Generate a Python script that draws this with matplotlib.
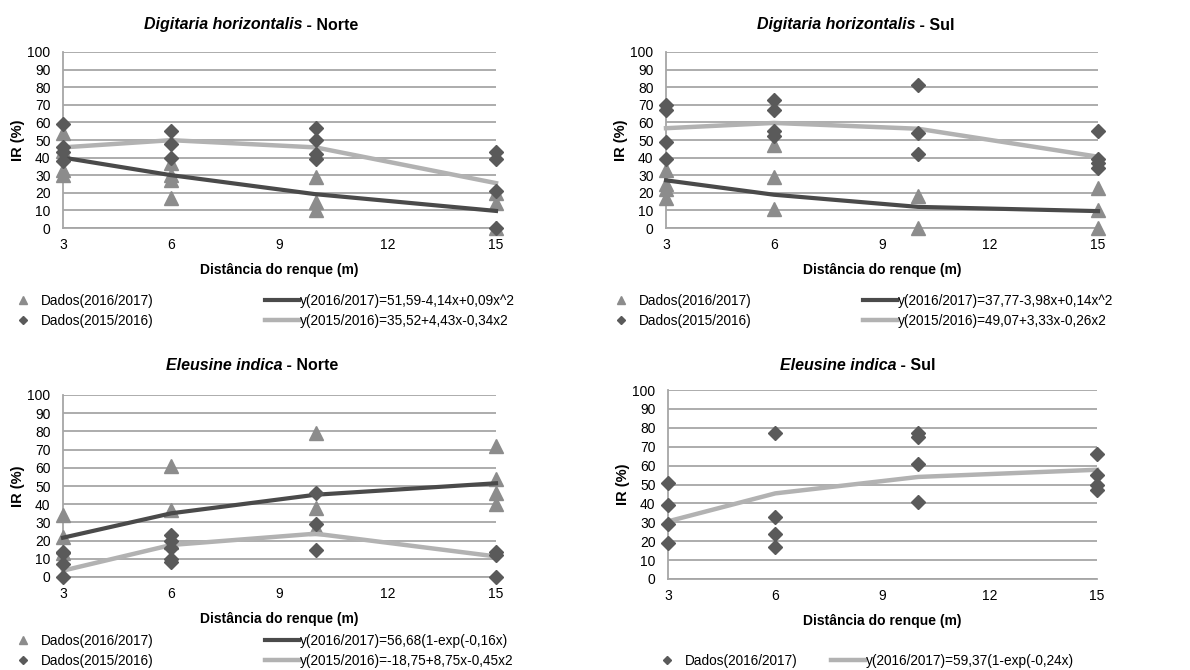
import matplotlib
matplotlib.use("Agg")
import matplotlib.pyplot as plt

plt.rcParams['font.family'] = ['Liberation Sans', 'DejaVu Sans']

# distâncias do renque (m) onde as curvas foram avaliadas
dist = [3, 6, 10, 15]

# Digitaria horizontalis - Norte
dn_x_1617 = [3, 3, 3, 3, 6, 6, 6, 6, 10, 10, 10, 15, 15, 15]
dn_y_1617 = [54, 44, 33, 30, 37, 30, 27, 17, 29, 15, 10, 20, 14, 0]
dn_x_1516 = [3, 3, 3, 3, 6, 6, 6, 10, 10, 10, 10, 15, 15, 15, 15]
dn_y_1516 = [59, 46, 43, 38, 55, 48, 40, 57, 50, 42, 39, 43, 39, 21, 0]
dn_fit_1617 = [40.0, 30.0, 19.2, 9.7]
dn_fit_1516 = [45.8, 49.9, 45.8, 25.5]

# Digitaria horizontalis - Sul
ds_x_1617 = [3, 3, 3, 3, 6, 6, 6, 10, 10, 15, 15, 15]
ds_y_1617 = [33, 25, 22, 17, 47, 29, 11, 18, 0, 23, 10, 0]
ds_x_1516 = [3, 3, 3, 3, 6, 6, 6, 6, 10, 10, 10, 15, 15, 15, 15]
ds_y_1516 = [70, 67, 49, 39, 73, 67, 55, 52, 81, 54, 42, 55, 39, 37, 34]
ds_fit_1617 = [27.1, 18.9, 12.0, 9.6]
ds_fit_1516 = [56.7, 59.7, 56.4, 40.5]

# Eleusine indica - Norte
en_x_1617 = [3, 3, 3, 6, 6, 6, 10, 10, 10, 15, 15, 15, 15]
en_y_1617 = [34, 22, 13, 61, 37, 19, 79, 38, 27, 72, 54, 46, 40]
en_x_1516 = [3, 3, 3, 3, 6, 6, 6, 6, 6, 10, 10, 10, 15, 15, 15]
en_y_1516 = [14, 13, 7, 0, 23, 20, 16, 10, 8, 46, 29, 15, 14, 12, 0]
en_fit_1617 = [21.6, 35.0, 45.2, 51.5]
en_fit_1516 = [3.5, 17.6, 23.8, 11.3]

# Eleusine indica - Sul
es_x_1617 = [3, 3, 3, 3, 6, 6, 6, 6, 10, 10, 10, 10, 15, 15, 15, 15]
es_y_1617 = [51, 39, 29, 19, 77, 33, 24, 17, 77, 75, 61, 41, 66, 55, 50, 47]
es_fit_1617 = [30.5, 45.3, 54.0, 57.8]

TRI = '#8c8c8c'
DIA = '#5a5a5a'
DARK = '#4a4a4a'
LIGHT = '#b2b2b2'
GRID = '#a6a6a6'

W, H = 1190, 670
fig = plt.figure(figsize=(W / 100, H / 100), dpi=100)


def setup(ax):
    ax.set_xlim(3, 15)
    ax.set_ylim(0, 100)
    ax.set_xticks([3, 6, 9, 12, 15])
    ax.set_yticks(range(0, 101, 10))
    ax.grid(axis='y', color=GRID, lw=1.3)
    ax.set_axisbelow(True)
    for s in ['top', 'right']:
        ax.spines[s].set_visible(False)
    for s in ['left', 'bottom']:
        ax.spines[s].set_color(GRID)
        ax.spines[s].set_linewidth(1.3)
    ax.tick_params(length=0, labelsize=10)
    ax.tick_params(axis='y', pad=9)
    ax.tick_params(axis='x', pad=7)
    ax.set_xlabel('Distância do renque (m)', fontsize=10, fontweight='bold', labelpad=8)
    ax.set_ylabel('IR (%)', fontsize=10.5, fontweight='bold', labelpad=2)


def title(xc, y, italic, rest):
    t1 = fig.text(0, y, italic, style='italic', weight='bold', size=11.5, va='center')
    t2 = fig.text(0, y, rest, weight='bold', size=11.5, va='center')
    r = fig.canvas.get_renderer()
    w1 = t1.get_window_extent(r).width
    w2 = t2.get_window_extent(r).width
    left = xc * W - (w1 + w2) / 2
    t1.set_x(left / W)
    t2.set_x((left + w1) / W)


def legend(ax, x0, ytop, ncol=2, colsp=8.2, lsp=0.45):
    ax.legend(loc='upper left', bbox_to_anchor=(x0 / W, 1 - ytop / H),
              bbox_transform=fig.transFigure, ncol=ncol, frameon=False,
              fontsize=9.8, handlelength=2.5, handletextpad=0.05,
              columnspacing=colsp, labelspacing=lsp, borderpad=0,
              borderaxespad=0, markerscale=0.6)


panels = [
    (dn_x_1617, dn_y_1617, dn_x_1516, dn_y_1516, dn_fit_1617, dn_fit_1516,
     [63, 228, 496, 52], 'y(2016/2017)=51,59-4,14x+0,09x^2', 'y(2015/2016)=35,52+4,43x-0,34x2'),
    (ds_x_1617, ds_y_1617, ds_x_1516, ds_y_1516, ds_fit_1617, ds_fit_1516,
     [666, 228, 1098, 52], 'y(2016/2017)=37,77-3,98x+0,14x^2', 'y(2015/2016)=49,07+3,33x-0,26x2'),
    (en_x_1617, en_y_1617, en_x_1516, en_y_1516, en_fit_1617, en_fit_1516,
     [63, 577, 496, 395], 'y(2016/2017)=56,68(1-exp(-0,16x)', 'y(2015/2016)=-18,75+8,75x-0,45x2'),
]

axes = []
for xa, ya, xb, yb, fa, fb, box, la, lb in panels:
    l, b, r, t = box
    ax = fig.add_axes([l / W, 1 - b / H, (r - l) / W, (b - t) / H])
    setup(ax)
    ax.plot(xa, ya, '^', color=TRI, ms=10, mec=TRI, ls='none', clip_on=False, zorder=3,
            label='Dados(2016/2017)')
    ax.plot(xb, yb, 'D', color=DIA, ms=7.2, mec=DIA, ls='none', clip_on=False, zorder=4,
            label='Dados(2015/2016)')
    ax.plot(dist, fa, color=DARK, lw=3, zorder=3.5, label=la, clip_on=False)
    ax.plot(dist, fb, color=LIGHT, lw=3.2, zorder=3.5, label=lb, clip_on=False)
    axes.append(ax)

# Eleusine indica - Sul (só um ano)
l, b, r, t = 668, 579, 1097, 390
ax4 = fig.add_axes([l / W, 1 - b / H, (r - l) / W, (b - t) / H])
setup(ax4)
ax4.plot(es_x_1617, es_y_1617, 'D', color=DIA, ms=7.2, mec=DIA, ls='none', clip_on=False,
         zorder=4, label='Dados(2016/2017)')
ax4.plot(dist, es_fit_1617, color=LIGHT, lw=3.2, zorder=3.5, clip_on=False,
         label='y(2016/2017)=59,37(1-exp(-0,24x)')

legend(axes[0], 6, 294)
legend(axes[1], 604, 294)
legend(axes[2], 6, 634, lsp=0.42)
legend(ax4, 650, 654, ncol=2, colsp=2.45)

title(0.211, 1 - 25 / H, 'Digitaria horizontalis', ' - Norte')
title(0.719, 1 - 25 / H, 'Digitaria horizontalis', ' - Sul')
title(0.212, 1 - 366 / H, 'Eleusine indica', ' - Norte')
title(0.721, 1 - 366 / H, 'Eleusine indica', ' - Sul')

fig.savefig('out.png', dpi=100)
